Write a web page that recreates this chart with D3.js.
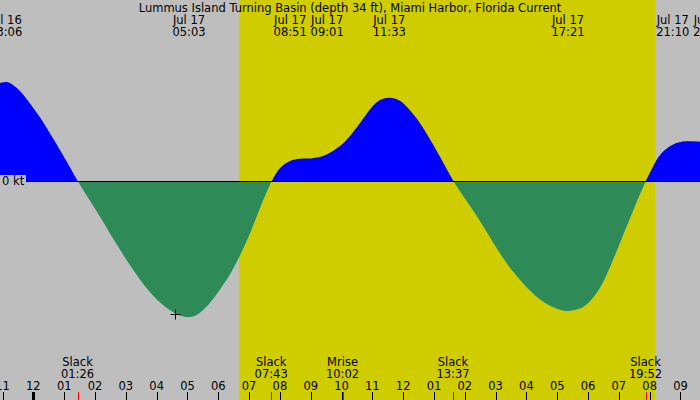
<!DOCTYPE html>
<html>
<head>
<meta charset="utf-8">
<script src="https://cdn.jsdelivr.net/npm/d3@7"></script>
<style>
  body { margin: 0; background: #bebebe; }
  svg { display: block; }
  text { font-family: "DejaVu Sans", sans-serif; font-size: 11.5px; fill: #000; }
</style>
</head>
<body>
<div id="chart"></div>
<script>
const title = "Lummus Island Turning Basin (depth 34 ft), Miami Harbor, Florida Current";
const windowTimes = ["2024-07-16 22:55", "2024-07-17 21:38"];
const sunTimes = ["2024-07-17 06:40", "2024-07-17 20:11"];

// current curve, knots (+ flood, - ebb)
const curveTimes = [
  "2024-07-16 22:55", "2024-07-16 23:06", "2024-07-16 23:14", "2024-07-16 23:34",
  "2024-07-16 23:53", "2024-07-17 00:13", "2024-07-17 00:32", "2024-07-17 00:52",
  "2024-07-17 01:11", "2024-07-17 01:26", "2024-07-17 01:50", "2024-07-17 02:10",
  "2024-07-17 02:29", "2024-07-17 02:49", "2024-07-17 03:08", "2024-07-17 03:28",
  "2024-07-17 03:47", "2024-07-17 04:07", "2024-07-17 04:26", "2024-07-17 04:45",
  "2024-07-17 05:03", "2024-07-17 05:24", "2024-07-17 05:44", "2024-07-17 06:03",
  "2024-07-17 06:23", "2024-07-17 06:42", "2024-07-17 07:02", "2024-07-17 07:21",
  "2024-07-17 07:43", "2024-07-17 08:00", "2024-07-17 08:20", "2024-07-17 08:39",
  "2024-07-17 08:51", "2024-07-17 09:01", "2024-07-17 09:24", "2024-07-17 09:38",
  "2024-07-17 09:57", "2024-07-17 10:16", "2024-07-17 10:36", "2024-07-17 11:01",
  "2024-07-17 11:15", "2024-07-17 11:33", "2024-07-17 11:54", "2024-07-17 12:13",
  "2024-07-17 12:33", "2024-07-17 12:52", "2024-07-17 13:12", "2024-07-17 13:37",
  "2024-07-17 13:57", "2024-07-17 14:17", "2024-07-17 14:36", "2024-07-17 14:56",
  "2024-07-17 15:20", "2024-07-17 15:48", "2024-07-17 16:07", "2024-07-17 16:27",
  "2024-07-17 16:46", "2024-07-17 17:06", "2024-07-17 17:21", "2024-07-17 17:44",
  "2024-07-17 17:58", "2024-07-17 18:23", "2024-07-17 18:43", "2024-07-17 19:02",
  "2024-07-17 19:28", "2024-07-17 19:52", "2024-07-17 20:07", "2024-07-17 20:20",
  "2024-07-17 20:46", "2024-07-17 21:10", "2024-07-17 21:38"
];
const curveKnots = [
  1.40, 1.42, 1.41, 1.30,
  1.114, 0.914, 0.686, 0.443,
  0.20, 0, -0.279, -0.51,
  -0.75, -0.986, -1.207, -1.414,
  -1.593, -1.743, -1.85, -1.925,
  -1.96, -1.90, -1.747, -1.557,
  -1.343, -1.071, -0.757, -0.386,
  0, 0.204, 0.30, 0.32,
  0.323, 0.322, 0.347, 0.407,
  0.49, 0.633, 0.824, 1.086,
  1.17, 1.20, 1.165, 1.014,
  0.836, 0.60, 0.347, 0,
  -0.214, -0.429, -0.643, -0.89,
  -1.171, -1.421, -1.571, -1.70,
  -1.785, -1.845, -1.865, -1.83,
  -1.771, -1.557, -1.229, -0.89,
  -0.414, 0, 0.214, 0.396,
  0.539, 0.575, 0.561
];

// max/min current labels along the top
const peakTimes = [
  "2024-07-16 23:06", "2024-07-17 05:03", "2024-07-17 08:51", "2024-07-17 09:01",
  "2024-07-17 11:33", "2024-07-17 17:21", "2024-07-17 21:10", "2024-07-17 21:32"
];
// slack / moon events along the bottom
const eventTimes = ["2024-07-17 01:26", "2024-07-17 07:43", "2024-07-17 10:02", "2024-07-17 13:37", "2024-07-17 19:52"];
const eventNames = ["Slack", "Slack", "Mrise", "Slack", "Slack"];

const markTime = "2024-07-17 04:36", markKnots = -1.90;

const parse = d3.timeParse("%Y-%m-%d %H:%M");

const width = 700, height = 400;
const svg = d3.select("#chart").append("svg")
  .attr("width", width).attr("height", height);

const x = d3.scaleTime().domain(windowTimes.map(parse)).range([0, width]);
const y = d3.scaleLinear().domain([-3, 3]).range([391, -29]);

// background + daylight
svg.append("rect").attr("width", width).attr("height", height).attr("fill", "#bebebe");
svg.append("rect")
  .attr("x", x(parse(sunTimes[0])))
  .attr("width", x(parse(sunTimes[1])) - x(parse(sunTimes[0])))
  .attr("height", height)
  .attr("fill", "#cfcc00");

// current fill, blue above zero and green below
const pts = curveTimes.map((t, i) => ({ t: parse(t), v: curveKnots[i] }));
const area = d3.area()
  .x(d => x(d.t))
  .y0(y(0))
  .y1(d => y(d.v))
  .curve(d3.curveBasis);

const defs = svg.append("defs");
defs.append("clipPath").attr("id", "above")
  .append("rect").attr("width", width).attr("height", y(0));
defs.append("clipPath").attr("id", "below")
  .append("rect").attr("y", y(0)).attr("width", width).attr("height", height - y(0));

svg.append("path").datum(pts).attr("d", area)
  .attr("fill", "#0000ff").attr("clip-path", "url(#above)");
svg.append("path").datum(pts).attr("d", area)
  .attr("fill", "#2e8b57").attr("clip-path", "url(#below)");

// zero line, its label sits on a plain patch
svg.append("rect")
  .attr("x", 0).attr("y", y(0) - 6)
  .attr("width", 26).attr("height", 12)
  .attr("fill", "#bebebe");
svg.append("line")
  .attr("x1", 26).attr("x2", width)
  .attr("y1", y(0)).attr("y2", y(0))
  .attr("stroke", "#000").attr("shape-rendering", "crispEdges");
svg.append("text").attr("x", 2).attr("y", y(0) + 4).text("0 kt");

// "now" marker
const mx = Math.round(x(parse(markTime))) + 0.5, my = Math.round(y(markKnots)) + 0.5;
svg.append("path")
  .attr("d", `M${mx - 5},${my}H${mx + 5}M${mx},${my - 5}V${my + 5}`)
  .attr("stroke", "#000");

// title
svg.append("text").attr("x", width / 2).attr("y", 12)
  .attr("text-anchor", "middle").text(title);

// spread labels that would overlap
function dodge(items, gap) {
  items.sort((a, b) => a.x - b.x);
  for (let i = 1; i < items.length; i++) {
    let a = items[i - 1], b = items[i];
    if (b.x - a.x < gap) {
      let m = (a.x + b.x) / 2;
      a.x = m - gap / 2;
      b.x = m + gap / 2;
    }
  }
  return items;
}

const fmtDay = d3.timeFormat("%b %d"), fmtTime = d3.timeFormat("%H:%M");
const peaks = dodge(peakTimes.map(s => ({ t: parse(s), x: x(parse(s)) })), 37);
const peakG = svg.selectAll("g.peak").data(peaks).enter().append("g")
  .attr("class", "peak").attr("text-anchor", "middle");
peakG.append("text").attr("x", d => d.x).attr("y", 24).text(d => fmtDay(d.t));
peakG.append("text").attr("x", d => d.x).attr("y", 36).text(d => fmtTime(d.t));

// hour axis
const hours = x.ticks(d3.timeHour.every(1));
svg.selectAll("text.hour").data(hours).enter().append("text")
  .attr("class", "hour")
  .attr("x", d => x(d)).attr("y", 390)
  .attr("text-anchor", "middle")
  .text(d3.timeFormat("%I"));
svg.selectAll("line.hour").data(hours).enter().append("line")
  .attr("class", "hour")
  .attr("x1", d => Math.round(x(d)) + 0.5).attr("x2", d => Math.round(x(d)) + 0.5)
  .attr("y1", 392).attr("y2", height)
  .attr("stroke", "#000")
  .attr("stroke-width", d => d.getHours() === 0 ? 3 : 1);

// events
const events = eventTimes.map((s, i) => ({ t: parse(s), name: eventNames[i] }));
svg.selectAll("line.event").data(events).enter().append("line")
  .attr("class", "event")
  .attr("x1", d => Math.round(x(d.t)) + 0.5).attr("x2", d => Math.round(x(d.t)) + 0.5)
  .attr("y1", 392).attr("y2", height)
  .attr("stroke", "#ff0000");
const evG = svg.selectAll("g.event").data(events).enter().append("g")
  .attr("class", "event").attr("text-anchor", "middle");
evG.append("text").attr("x", d => x(d.t)).attr("y", 366).text(d => d.name);
evG.append("text").attr("x", d => x(d.t)).attr("y", 378).text(d => fmtTime(d.t));
</script>
</body>
</html>
